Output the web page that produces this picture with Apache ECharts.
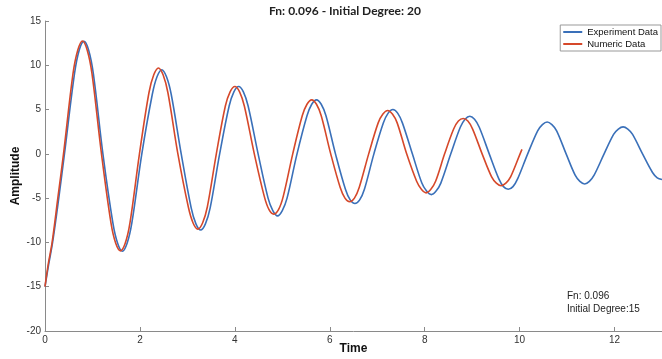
<!DOCTYPE html>
<html>
<head>
<meta charset="utf-8">
<script src="https://cdn.jsdelivr.net/npm/echarts@6/dist/echarts.min.js"></script>
<style>
  html, body { margin: 0; padding: 0; background: #fff; }
  #chart { width: 662px; height: 359px; }
</style>
</head>
<body>
<div id="chart"></div>
<script>
// Measured response (experiment): [time, amplitude]
const expData = [
  [0, -15], [0.08, -12.4], [0.16, -10.0], [0.29, -5.0], [0.41, 0],
  [0.62, 9.0], [0.72, 11.7], [0.82, 12.7], [0.92, 11.7], [1.02, 9.0], [1.22, 0],
  [1.43, -7.8], [1.53, -10.1], [1.63, -11.0], [1.73, -10.1], [1.83, -7.8], [2.04, 0],
  [2.26, 6.7], [2.36, 8.7], [2.46, 9.5], [2.56, 8.7], [2.66, 6.7], [2.87, 0],
  [3.08, -6.1], [3.18, -7.9], [3.28, -8.6], [3.38, -7.9], [3.48, -6.1], [3.68, 0],
  [3.88, 5.4], [3.98, 7.0], [4.08, 7.6], [4.18, 7.0], [4.28, 5.4], [4.49, 0],
  [4.70, -5.0], [4.80, -6.4], [4.90, -7.0], [5.00, -6.4], [5.10, -5.0], [5.31, 0],
  [5.52, 4.3], [5.62, 5.6], [5.72, 6.1], [5.82, 5.6], [5.92, 4.3], [6.12, 0],
  [6.33, -4.0], [6.43, -5.2], [6.53, -5.6], [6.63, -5.2], [6.73, -4.0], [6.93, 0],
  [7.13, 3.5], [7.23, 4.6], [7.33, 5.0], [7.43, 4.6], [7.53, 3.5], [7.74, 0],
  [7.94, -3.3], [8.04, -4.2], [8.14, -4.6], [8.24, -4.2], [8.34, -3.3], [8.55, 0],
  [8.75, 3.0], [8.85, 3.9], [8.95, 4.25], [9.05, 3.9], [9.15, 3.0], [9.36, 0],
  [9.56, -2.8], [9.66, -3.7], [9.76, -4.0], [9.86, -3.7], [9.96, -2.8], [10.17, 0],
  [10.38, 2.6], [10.48, 3.3], [10.58, 3.6], [10.68, 3.3], [10.78, 2.6], [10.98, 0],
  [11.17, -2.4], [11.27, -3.1], [11.37, -3.4], [11.47, -3.1], [11.57, -2.4], [11.78, 0],
  [11.98, 2.2], [12.08, 2.8], [12.18, 3.05], [12.28, 2.8], [12.38, 2.2], [12.59, 0],
  [12.80, -2.1], [12.90, -2.7], [13.0, -2.9]
];

// Simulated response (numeric): [time, amplitude]
const numData = [
  [0, -15], [0.07, -12.4], [0.15, -10.0], [0.27, -5.0], [0.39, 0],
  [0.59, 9.05], [0.69, 11.7], [0.79, 12.75], [0.89, 11.7], [0.99, 9.05], [1.19, 0],
  [1.39, -7.8], [1.49, -10.1], [1.59, -10.95], [1.69, -10.1], [1.79, -7.8], [1.99, 0],
  [2.19, 6.9], [2.29, 8.9], [2.39, 9.7], [2.49, 8.9], [2.59, 6.9], [2.80, 0],
  [3.02, -6.0], [3.12, -7.8], [3.22, -8.5], [3.32, -7.8], [3.42, -6.0], [3.61, 0],
  [3.80, 5.4], [3.90, 7.0], [4.00, 7.6], [4.10, 7.0], [4.20, 5.4], [4.41, 0],
  [4.62, -4.8], [4.72, -6.3], [4.82, -6.8], [4.92, -6.3], [5.02, -4.8], [5.22, 0],
  [5.42, 4.3], [5.52, 5.6], [5.62, 6.1], [5.72, 5.6], [5.82, 4.3], [6.02, 0],
  [6.22, -3.8], [6.32, -5.0], [6.42, -5.4], [6.52, -5.0], [6.62, -3.8], [6.82, 0],
  [7.02, 3.5], [7.12, 4.5], [7.22, 4.9], [7.32, 4.5], [7.42, 3.5], [7.62, 0],
  [7.83, -3.1], [7.93, -4.0], [8.03, -4.4], [8.13, -4.0], [8.23, -3.1], [8.42, 0],
  [8.61, 2.8], [8.71, 3.7], [8.81, 4.0], [8.91, 3.7], [9.01, 2.8], [9.21, 0],
  [9.41, -2.6], [9.51, -3.3], [9.61, -3.6], [9.71, -3.3], [9.81, -2.6], [10.01, 0],
  [10.05, 0.5]
];

const xTicks = [0, 2, 4, 6, 8, 10, 12];
const yTicks = [-20, -15, -10, -5, 0, 5, 10, 15];

const chartTitle = 'Fn: 0.096 - Initial Degree: 20';
const noteLines = ['Fn: 0.096', 'Initial Degree:15'];

const axisGray = '#8a8a8a';
const labelColor = '#333';

const chart = echarts.init(document.getElementById('chart'), null, { renderer: 'canvas' });
chart.setOption({
  animation: false,
  backgroundColor: '#ffffff',
  title: {
    text: chartTitle,
    left: 340,
    textAlign: 'center',
    top: 0,
    textStyle: { fontFamily: 'Lato', fontWeight: 'bold', fontSize: 12, color: '#222' }
  },
  grid: { left: 45, right: 0, top: 21, bottom: 28, containLabel: false, outerBoundsMode: 'none' },
  legend: {
    orient: 'vertical',
    right: 1,
    top: 25,
    itemWidth: 19,
    itemHeight: 2,
    itemGap: 2,
    icon: 'rect',
    padding: [2, 3, 2, 3],
    borderColor: '#999',
    borderWidth: 1,
    backgroundColor: '#fff',
    textStyle: { fontFamily: 'Liberation Sans', fontSize: 9.5, color: '#111' },
    data: ['Experiment Data', 'Numeric Data']
  },
  xAxis: {
    type: 'value',
    min: 0,
    max: 13,
    interval: 2,
    name: 'Time',
    nameLocation: 'middle',
    nameGap: 12,
    nameMoveOverlap: false,
    nameTextStyle: { fontFamily: 'Liberation Sans', fontWeight: 'bold', fontSize: 12, color: '#111' },
    axisLine: { show: true, onZero: false, lineStyle: { color: axisGray, width: 1 } },
    axisTick: { show: true, inside: true, length: 4, lineStyle: { color: axisGray } },
    axisLabel: {
      margin: 4,
      color: labelColor,
      fontFamily: 'Liberation Sans',
      fontSize: 10,
      showMaxLabel: false,
      formatter: v => (xTicks.includes(v) ? String(v) : '')
    },
    splitLine: { show: false }
  },
  yAxis: {
    type: 'value',
    min: -20,
    max: 15,
    interval: 5,
    name: 'Amplitude',
    nameLocation: 'middle',
    nameGap: 23,
    nameMoveOverlap: false,
    nameTextStyle: { fontFamily: 'Liberation Sans', fontWeight: 'bold', fontSize: 12, color: '#111' },
    axisLine: { show: true, onZero: false, lineStyle: { color: axisGray, width: 1 } },
    axisTick: { show: true, inside: true, length: 4, lineStyle: { color: axisGray } },
    axisLabel: {
      margin: 4,
      color: labelColor,
      fontFamily: 'Liberation Sans',
      fontSize: 10,
      formatter: v => (yTicks.includes(v) ? String(v) : '')
    },
    splitLine: { show: false }
  },
  series: [
    {
      name: 'Experiment Data',
      type: 'line',
      data: expData,
      smooth: 0.35,
      symbol: 'none',
      lineStyle: { color: '#3a70b9', width: 1.6 },
      itemStyle: { color: '#3a70b9' },
      z: 2
    },
    {
      name: 'Numeric Data',
      type: 'line',
      data: numData,
      smooth: 0.35,
      symbol: 'none',
      lineStyle: { color: '#d6482a', width: 1.6 },
      itemStyle: { color: '#d6482a' },
      z: 3
    }
  ],
  graphic: [
    {
      type: 'text',
      left: 567,
      top: 290,
      style: {
        text: noteLines.join('\n'),
        font: '10px "Liberation Sans"',
        fill: '#222',
        lineHeight: 13
      }
    }
  ]
});
</script>
</body>
</html>
